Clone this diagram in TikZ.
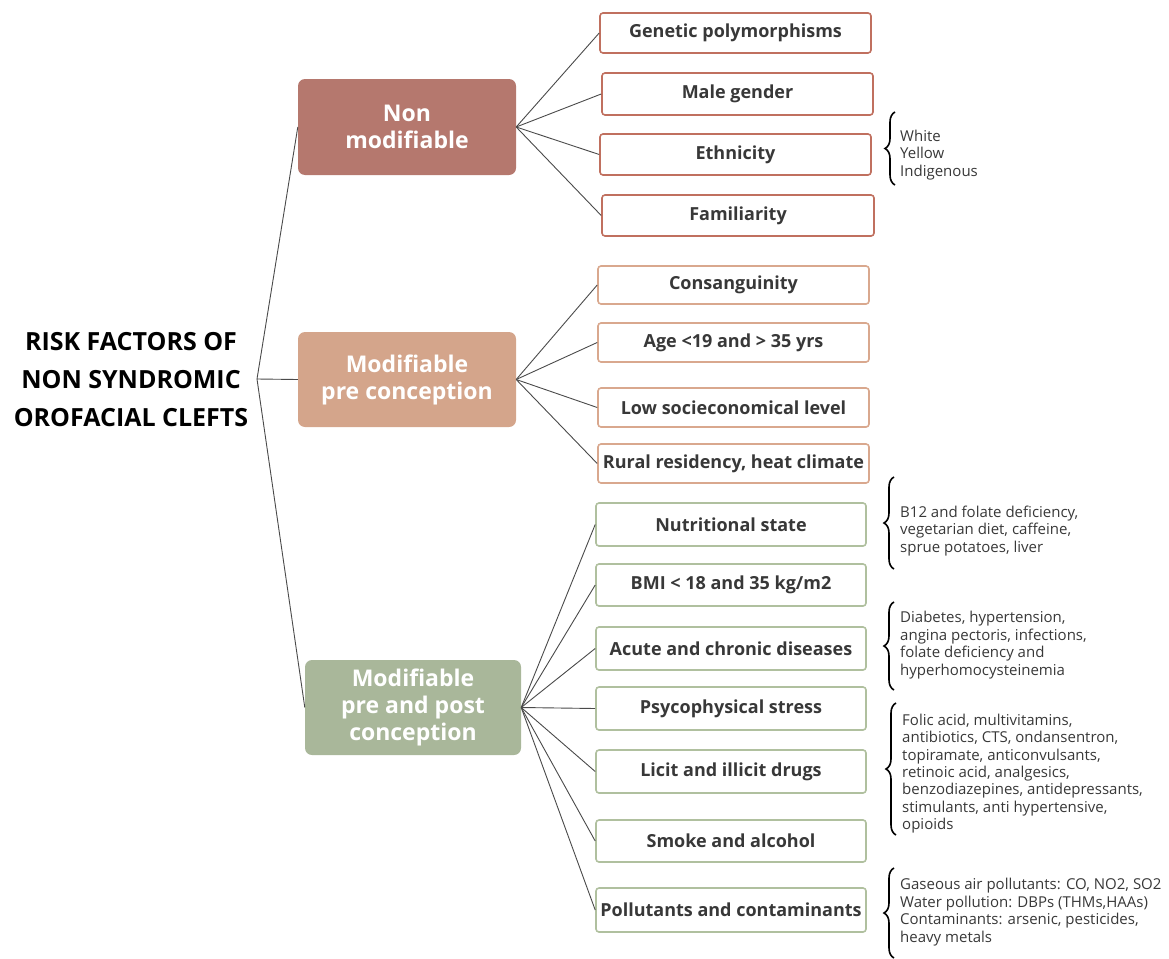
\documentclass[tikz,border=0pt]{standalone}
\usepackage{fontspec}
\setmainfont{Open Sans}
\usetikzlibrary{decorations.pathreplacing}
\definecolor{catA}{HTML}{B5786E}
\definecolor{catB}{HTML}{D4A58B}
\definecolor{catC}{HTML}{A9B79A}
\definecolor{edgeA}{HTML}{C0705F}
\definecolor{edgeB}{HTML}{D9A88E}
\definecolor{edgeC}{HTML}{B0C09F}
\definecolor{leaftext}{HTML}{383838}
\definecolor{linec}{HTML}{4A4A4A}
\begin{document}
\begin{tikzpicture}[x=1pt,y=-1pt,
  leaf/.style={draw=#1, line width=1.6pt, rounded corners=3pt, fill=white,
    text=leaftext, inner sep=0pt, font=\bfseries\fontsize{18}{21}\selectfont},
  cat/.style={fill=#1, rounded corners=7pt, text=white, inner sep=0pt, align=center,
    font=\bfseries\fontsize{23}{27}\selectfont},
  conn/.style={draw=linec, line width=0.9pt},
  side/.style={anchor=west, align=left, inner sep=0pt, text=leaftext,
    font=\fontsize{15}{17.4}\selectfont},
  curly/.style={draw=black, line width=1.6pt, decorate, decoration={brace, amplitude=10pt}}
]
\useasboundingbox (0,0) rectangle (1169,958);

% title
\node[align=center, font=\bfseries\fontsize{25}{38}\selectfont, inner sep=0pt] (title) at (131,380)
  {RISK FACTORS OF\\NON SYNDROMIC\\OROFACIAL CLEFTS};
\coordinate (root) at (257,379);

% categories
\node[cat=catA, minimum width=218pt, minimum height=96pt] (nm) at (407,127) {Non\\modifiable};
\node[cat=catB, minimum width=218pt, minimum height=95pt] (pc) at (407,379.5) {Modifiable\\pre conception};
\node[cat=catC, minimum width=216pt, minimum height=95pt] (pp) at (413,707.5) {Modifiable\\pre and post\\conception};

\draw[conn] (root) -- (nm.west);
\draw[conn] (root) -- (pc.west);
\draw[conn] (root) -- (pp.west);

% group A leaves
\node[leaf=edgeA, minimum width=271pt, minimum height=40pt] (a1) at (735.5,33) {Genetic polymorphisms};
\node[leaf=edgeA, minimum width=271pt, minimum height=42pt] (a2) at (737.5,94) {Male gender};
\node[leaf=edgeA, minimum width=271pt, minimum height=41pt] (a3) at (735.5,154.5) {Ethnicity};
\node[leaf=edgeA, minimum width=272pt, minimum height=41pt] (a4) at (738,215.5) {Familiarity};
\foreach \n in {a1,a2,a3,a4} \draw[conn] (nm.east) -- (\n.west);

% group B leaves
\node[leaf=edgeB, minimum width=271pt, minimum height=38pt] (b1) at (733.5,285) {Consanguinity};
\node[leaf=edgeB, minimum width=271pt, minimum height=39pt] (b2) at (733.5,342.5) {Age <19 and > 35 yrs};
\node[leaf=edgeB, minimum width=271pt, minimum height=39pt] (b3) at (733.5,407.5) {Low socieconomical level};
\node[leaf=edgeB, minimum width=271pt, minimum height=39pt] (b4) at (733.5,463.5) {Rural residency, heat climate};
\foreach \n in {b1,b2,b3,b4} \draw[conn] (pc.east) -- (\n.west);

% group C leaves
\node[leaf=edgeC, minimum width=270pt, minimum height=43pt] (c1) at (731,524.5) {Nutritional state};
\node[leaf=edgeC, minimum width=270pt, minimum height=42pt] (c2) at (731,585) {BMI < 18 and 35 kg/m2};
\node[leaf=edgeC, minimum width=270pt, minimum height=43pt] (c3) at (731,648.5) {Acute and chronic diseases};
\node[leaf=edgeC, minimum width=270pt, minimum height=43pt] (c4) at (731,708.5) {Psycophysical stress};
\node[leaf=edgeC, minimum width=270pt, minimum height=43pt] (c5) at (731,771.5) {Licit and illicit drugs};
\node[leaf=edgeC, minimum width=270pt, minimum height=42pt] (c6) at (731,841) {Smoke and alcohol};
\node[leaf=edgeC, minimum width=270pt, minimum height=44pt] (c7) at (731,910) {Pollutants and contaminants};
\foreach \n in {c1,c2,c3,c4,c5,c6,c7} \draw[conn] (pp.east) -- (\n.west);

% braces and side notes
\draw[curly] (895,185) -- (895,112);
\node[side] (s1) at (900,155) {White\\Yellow\\Indigenous};

\draw[curly] (894,569) -- (894,477);
\node[side] (s2) at (900,531) {B12 and folate deficiency,\\vegetarian diet, caffeine,\\sprue potatoes, liver};

\draw[curly] (894,690) -- (894,602);
\node[side] (s3) at (900,645) {Diabetes, hypertension,\\angina pectoris, infections,\\folate deficiency and\\hyperhomocysteinemia};

\draw[curly] (896,835) -- (896,703);
\node[side] (s4) at (902,773.5) {Folic acid, multivitamins,\\antibiotics, CTS, ondansentron,\\topiramate, anticonvulsants,\\retinoic acid, analgesics,\\benzodiazepines, antidepressants,\\stimulants, anti hypertensive,\\opioids};

\draw[curly] (894,958) -- (894,868);
\node[side] (s5) at (900,912) {Gaseous air pollutants: CO, NO2, SO2\\Water pollution: DBPs (THMs,HAAs)\\Contaminants: arsenic, pesticides,\\heavy metals};
\end{tikzpicture}
\end{document}
